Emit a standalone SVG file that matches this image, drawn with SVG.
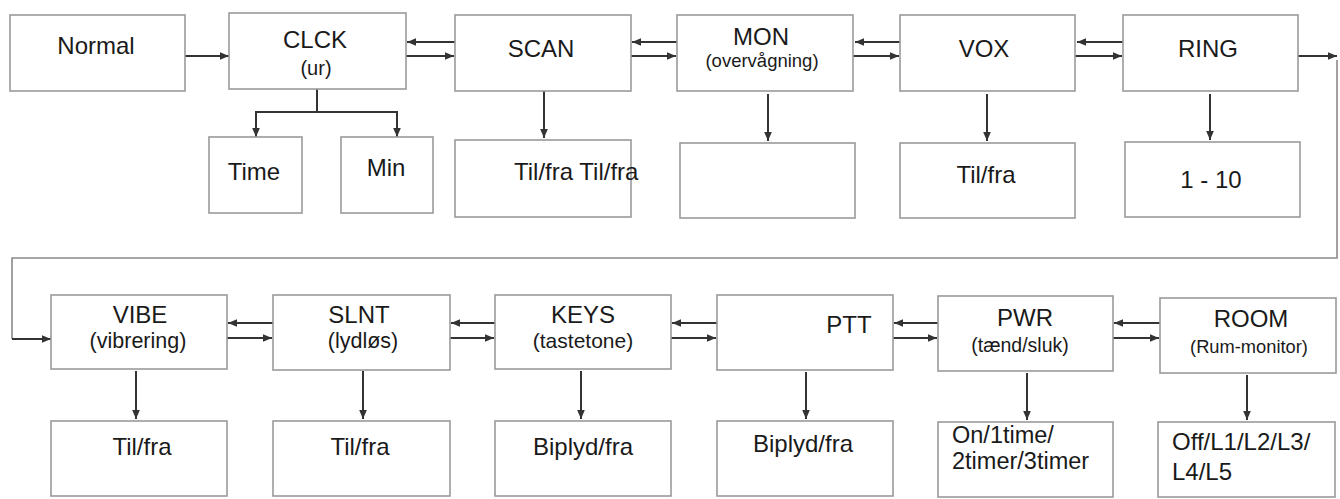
<svg xmlns="http://www.w3.org/2000/svg" width="1340" height="499" viewBox="0 0 1340 499">
<defs>
<marker id="ah" viewBox="0 0 8 8" refX="8" refY="4" markerWidth="9" markerHeight="9" markerUnits="userSpaceOnUse" orient="auto">
<path d="M0,0.6 L8,4 L0,7.4 Z" fill="#333"/>
</marker>
<style>
.box{fill:#fff;stroke:#9a9a9a;stroke-width:1.6}
.t{font-family:"Liberation Sans",Arial,sans-serif;font-size:24px;fill:#1a1a1a;text-anchor:middle}
.s{font-family:"Liberation Sans",Arial,sans-serif;font-size:20px;fill:#1a1a1a;text-anchor:middle}
.l{text-anchor:start}
.c{fill:none;stroke:#333;stroke-width:2;marker-end:url(#ah)}
.loop{fill:none;stroke:#8a8a8a;stroke-width:1.6}
</style>
</defs>
<rect width="1340" height="499" fill="#fff"/>
<g id="connectors">
<line class="c" x1="185" y1="56" x2="229" y2="56"/>
<line class="c" x1="455" y1="42" x2="407" y2="42"/>
<line class="c" x1="406" y1="56" x2="454" y2="56"/>
<line class="c" x1="677" y1="42" x2="632" y2="42"/>
<line class="c" x1="631" y1="56" x2="676" y2="56"/>
<line class="c" x1="900" y1="42" x2="855" y2="42"/>
<line class="c" x1="853" y1="56" x2="899" y2="56"/>
<line class="c" x1="1123" y1="42" x2="1077" y2="42"/>
<line class="c" x1="1075" y1="56" x2="1122" y2="56"/>
<line class="c" x1="1298" y1="56" x2="1337" y2="56"/>
<path class="loop" d="M1337,60 V258 H12 V339"/>
<line class="c" x1="12" y1="339" x2="51" y2="339"/>
<path fill="none" stroke="#333" stroke-width="2" d="M317,89 V112 M256,112 H397"/>
<line class="c" x1="256" y1="111" x2="256" y2="137"/>
<line class="c" x1="397" y1="111" x2="397" y2="137"/>
<line class="c" x1="544" y1="91" x2="544" y2="138"/>
<line class="c" x1="768" y1="94" x2="768" y2="141"/>
<line class="c" x1="987" y1="94" x2="987" y2="141"/>
<line class="c" x1="1210" y1="94" x2="1210" y2="140"/>
<line class="c" x1="273" y1="323" x2="228" y2="323"/>
<line class="c" x1="227" y1="338" x2="272" y2="338"/>
<line class="c" x1="495" y1="323" x2="451" y2="323"/>
<line class="c" x1="450" y1="338" x2="494" y2="338"/>
<line class="c" x1="717" y1="323" x2="672" y2="323"/>
<line class="c" x1="671" y1="338" x2="716" y2="338"/>
<line class="c" x1="938" y1="323" x2="894" y2="323"/>
<line class="c" x1="893" y1="338" x2="937" y2="338"/>
<line class="c" x1="1160" y1="323" x2="1114" y2="323"/>
<line class="c" x1="1113" y1="338" x2="1159" y2="338"/>
<line class="c" x1="136" y1="371" x2="136" y2="419"/>
<line class="c" x1="363" y1="371" x2="363" y2="419"/>
<line class="c" x1="581" y1="371" x2="581" y2="419"/>
<line class="c" x1="806" y1="372" x2="806" y2="419"/>
<line class="c" x1="1027" y1="373" x2="1027" y2="420"/>
<line class="c" x1="1247" y1="375" x2="1247" y2="420"/>
</g>
<g id="normal"><rect class="box" x="10" y="15" width="175" height="76"/><text class="t" x="96" y="54">Normal</text></g>
<g id="clck"><rect class="box" x="229" y="13" width="177" height="76"/><text class="t" x="315" y="48">CLCK</text><text class="s" x="316" y="75">(ur)</text></g>
<g id="time"><rect class="box" x="209" y="137" width="93" height="76"/><text class="t" x="254" y="180">Time</text></g>
<g id="min"><rect class="box" x="341" y="137" width="92" height="76"/><text class="t" x="386" y="176">Min</text></g>
<g id="scan"><rect class="box" x="455" y="15" width="176" height="76"/><text class="t" x="541" y="57">SCAN</text></g>
<g id="scan-opt"><rect class="box" x="455" y="140" width="176" height="77"/><text class="t l" x="514" y="180">Til/fra Til/fra</text></g>
<g id="mon"><rect class="box" x="677" y="15" width="176" height="76"/><text class="t" x="761" y="45">MON</text><text class="s" x="762" y="67" style="font-size:18.5px">(overvågning)</text></g>
<g id="mon-opt"><rect class="box" x="680" y="143" width="175" height="75"/></g>
<g id="vox"><rect class="box" x="900" y="15" width="175" height="76"/><text class="t" x="984" y="57">VOX</text></g>
<g id="vox-opt"><rect class="box" x="900" y="143" width="175" height="75"/><text class="t" x="986" y="183">Til/fra</text></g>
<g id="ring"><rect class="box" x="1123" y="15" width="175" height="76"/><text class="t" x="1208" y="57">RING</text></g>
<g id="ring-opt"><rect class="box" x="1125" y="142" width="175" height="75"/><text class="t" x="1211" y="188">1 - 10</text></g>
<g id="vibe"><rect class="box" x="51" y="295" width="176" height="74"/><text class="t" x="140" y="323">VIBE</text><text class="s" x="138" y="348" style="font-size:21.5px">(vibrering)</text></g>
<g id="vibe-opt"><rect class="box" x="51" y="421" width="176" height="75"/><text class="t" x="142" y="455">Til/fra</text></g>
<g id="slnt"><rect class="box" x="273" y="295" width="177" height="75"/><text class="t" x="359" y="323">SLNT</text><text class="s" x="363" y="348" style="font-size:21.5px">(lydløs)</text></g>
<g id="slnt-opt"><rect class="box" x="273" y="421" width="177" height="75"/><text class="t" x="360" y="455">Til/fra</text></g>
<g id="keys"><rect class="box" x="495" y="295" width="176" height="74"/><text class="t" x="583" y="323">KEYS</text><text class="s" x="583" y="348" style="font-size:21px">(tastetone)</text></g>
<g id="keys-opt"><rect class="box" x="495" y="421" width="176" height="75"/><text class="t" x="583" y="455">Biplyd/fra</text></g>
<g id="ptt"><rect class="box" x="717" y="295" width="176" height="75"/><text class="t" x="849" y="333">PTT</text></g>
<g id="ptt-opt"><rect class="box" x="717" y="421" width="176" height="75"/><text class="t" x="803" y="452">Biplyd/fra</text></g>
<g id="pwr"><rect class="box" x="938" y="296" width="175" height="75"/><text class="t" x="1025" y="326">PWR</text><text class="s" x="1020" y="352" style="font-size:19.5px">(tænd/sluk)</text></g>
<g id="pwr-opt"><rect class="box" x="938" y="422" width="175" height="75"/><text class="t l" x="952" y="443" style="font-size:23.5px">On/1time/</text><text class="t l" x="952" y="469" style="font-size:23.5px">2timer/3timer</text></g>
<g id="room"><rect class="box" x="1160" y="298" width="176" height="75"/><text class="t" x="1251" y="327">ROOM</text><text class="s" x="1249" y="353" style="font-size:18.3px">(Rum-monitor)</text></g>
<g id="room-opt"><rect class="box" x="1158" y="422" width="177" height="75"/><text class="t l" x="1172" y="450">Off/L1/L2/L3/</text><text class="t l" x="1172" y="480">L4/L5</text></g>
</svg>
